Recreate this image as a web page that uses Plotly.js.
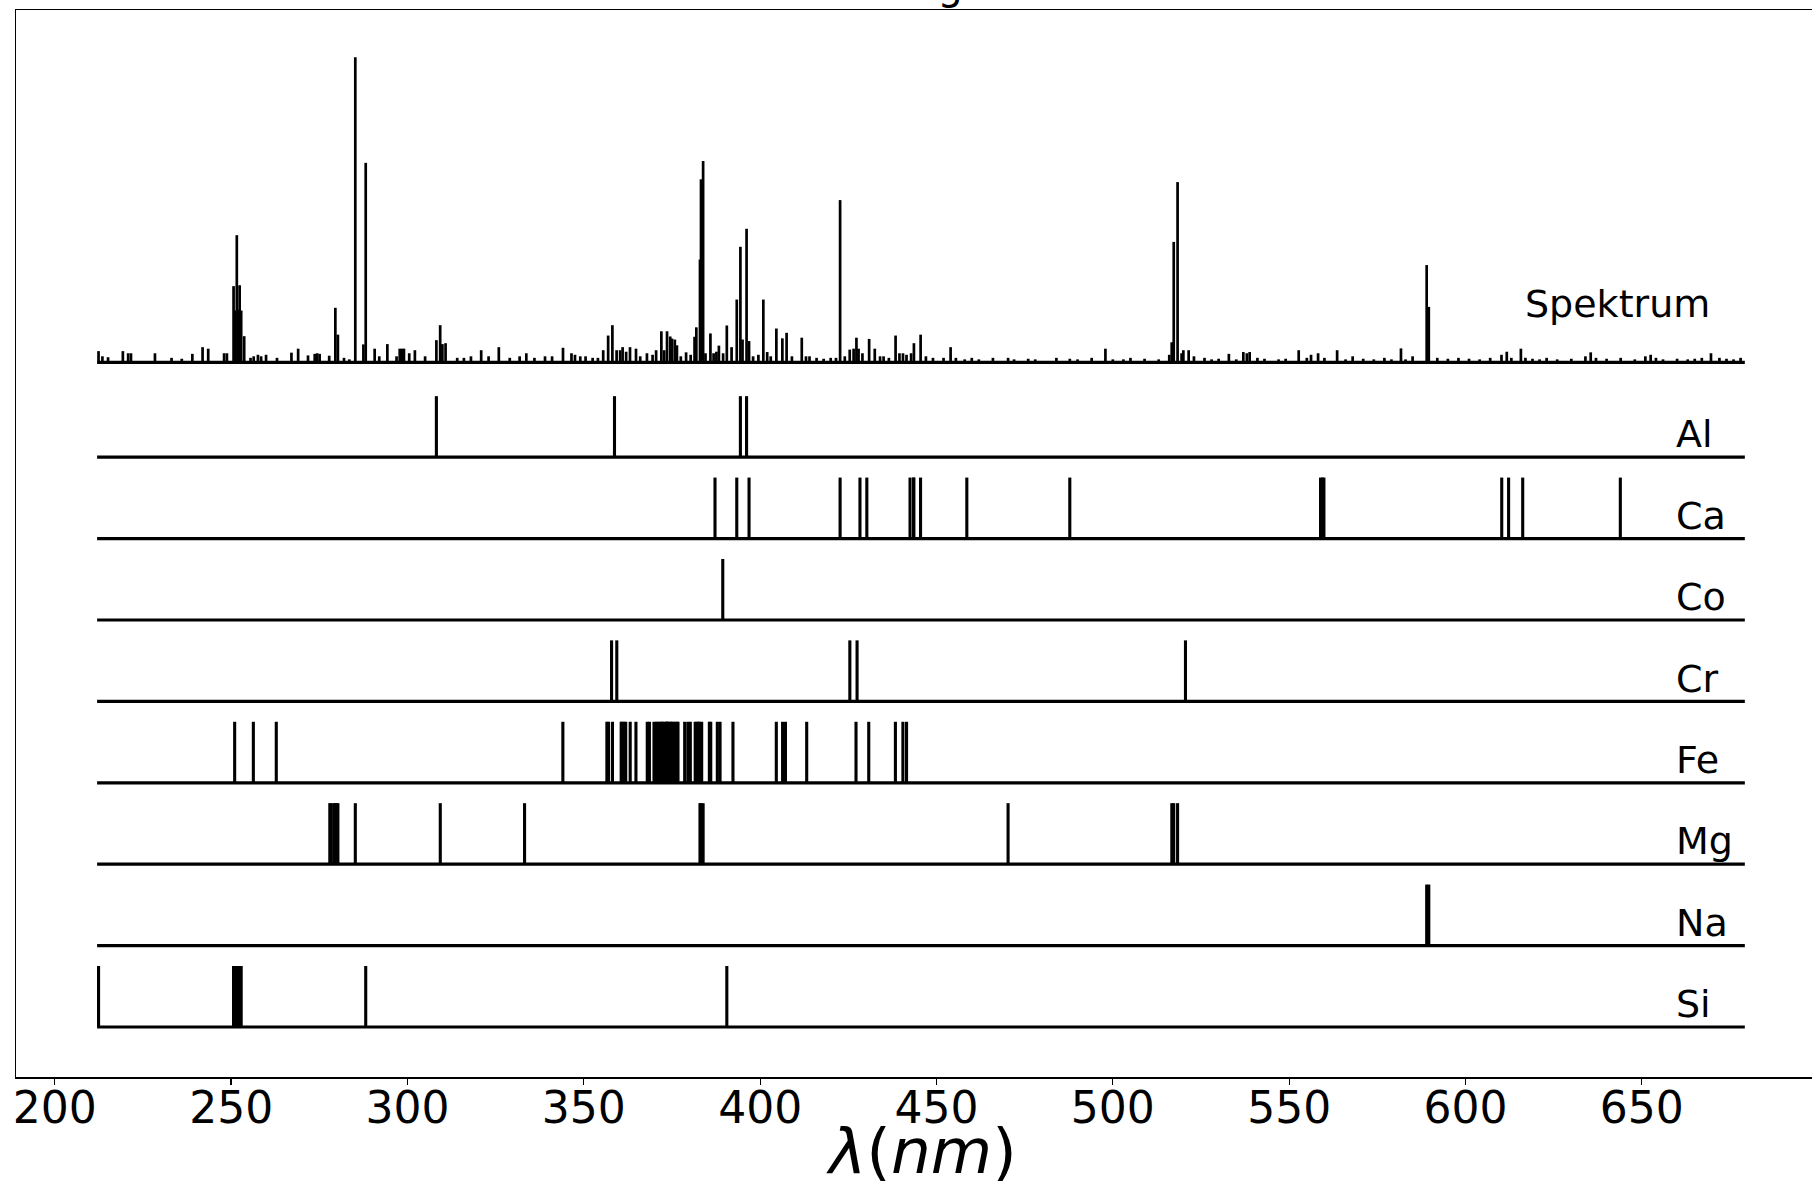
<!DOCTYPE html>
<html>
<head>
<meta charset="utf-8">
<script src="https://cdn.plot.ly/plotly-3.0.1.min.js"></script>
<style>
  html, body { margin: 0; padding: 0; overflow: hidden; background: #fff; }
  #chart { position: absolute; left: 0; top: -60px; }
</style>
</head>
<body>
<div id="chart"></div>
<script>
// ---------------- DATA ----------------
// wavelength span of the measured spectrum (nm)
const wlRange = [212.0, 679.2];

// element rows, top to bottom
const elements = ["Al", "Ca", "Co", "Cr", "Fe", "Mg", "Na", "Si"];

// reference line positions (nm) per element
const linesAl = [308.2, 358.7, 394.4, 396.15];
const linesCa = [387.2, 393.37, 396.85, 422.67, 428.3, 430.25, 442.5, 443.5, 443.57, 445.48,
                 458.6, 487.8, 558.9, 559.45, 559.85, 610.27, 612.22, 616.22, 643.9];
const linesCo = [389.4];
const linesCr = [357.87, 359.35, 425.43, 427.48, 520.6];
const linesFe = [251.0, 256.3, 262.8, 344.06, 356.54, 357.01, 358.12, 360.6, 360.89, 361.4, 361.88,
                 363.15, 364.78, 367.99, 368.6, 369.9, 370.56, 371.0, 371.5, 371.99, 372.26, 372.76,
                 373.33, 373.49, 373.71, 374.1, 374.56, 374.83, 375.3, 375.82, 376.38, 376.7,
                 378.6, 379.5, 380.2, 381.58, 382.04, 382.44, 382.78, 383.42, 385.6, 385.99,
                 387.86, 388.63, 392.29, 404.58, 406.36, 407.17, 413.2, 427.18, 430.79,
                 438.35, 440.48, 441.51];
const linesMg = [277.98, 278.3, 279.08, 279.55, 279.8, 280.27, 285.21, 309.3, 333.2,
                 382.94, 383.23, 383.83, 470.3, 516.73, 517.27, 518.36];
const linesNa = [588.99, 589.59];
const linesSi = [212.41, 250.69, 251.43, 251.61, 251.92, 252.41, 252.85, 288.16, 390.55];

// measured spectrum: peak wavelengths (nm) and relative intensity (max = 100)
const specWl = [
  212.4, 213.5, 215.1, 219.3, 220.8, 221.6, 228.4, 233.1, 236.0, 239.0, 241.9, 243.5, 248.0, 248.8,
  250.69, 251.2, 251.61, 251.92, 252.41, 252.85, 253.7, 255.5, 256.4, 257.6, 258.5, 259.9, 263.0,
  267.1, 269.0, 271.8, 273.7, 274.4, 275.1, 277.8, 279.55, 280.27, 282.0, 283.5, 285.21, 287.5,
  288.16, 290.7, 292.0, 294.3, 296.9, 297.8, 298.5, 299.0, 300.5, 302.1, 305.0, 308.2, 309.27,
  309.9, 310.8, 314.1, 316.0, 318.0, 320.9, 323.0, 325.9, 329.0, 331.8, 333.7, 336.0, 339.0,
  341.0, 344.1, 346.5, 347.5, 349.0, 350.5, 352.5, 354.0, 355.5, 356.9, 358.1, 359.3, 360.3,
  361.0, 362.0, 363.1, 364.8, 366.0, 367.9, 369.5, 370.5, 371.99, 372.8, 373.6, 374.5, 375.0,
  375.8, 376.4, 377.5, 379.0, 380.3, 381.4, 381.9, 382.94, 383.23, 383.83, 384.5, 385.9, 386.8,
  387.6, 388.3, 389.5, 390.55, 391.9, 393.37, 394.4, 395.0, 396.15, 396.85, 398.0, 399.5, 400.9,
  402.0, 403.0, 404.6, 406.3, 407.5, 409.0, 411.8, 413.0, 414.0, 416.0, 418.0, 420.0, 421.5,
  422.67, 424.0, 425.4, 426.5, 427.3, 427.9, 429.0, 430.9, 432.5, 434.0, 435.0, 436.5, 438.4,
  439.5, 440.5, 441.5, 442.8, 443.6, 445.5, 447.0, 449.0, 452.0, 454.0, 455.5, 458.0, 460.0,
  462.0, 466.0, 470.3, 472.0, 476.0, 478.0, 484.0, 487.8, 490.0, 494.0, 497.9, 500.0, 503.0,
  505.0, 509.0, 513.0, 516.0, 516.7, 517.27, 518.36, 519.5, 520.0, 521.5, 523.0, 526.0, 528.0,
  530.0, 532.9, 535.0, 537.0, 538.0, 538.8, 541.0, 543.0, 547.0, 549.0, 552.7, 555.0, 556.2,
  558.2, 560.0, 563.6, 566.0, 568.0, 571.0, 574.0, 577.0, 579.0, 581.7, 583.0, 585.0, 588.99,
  589.59, 592.0, 595.0, 598.0, 601.0, 604.0, 607.0, 610.2, 611.7, 613.0, 615.7, 617.0, 619.0,
  621.0, 623.0, 626.0, 630.0, 634.0, 635.5, 637.0, 640.0, 644.0, 648.0, 651.0, 652.5, 654.0,
  656.0, 660.0, 663.0, 665.0, 667.0, 669.6, 672.0, 674.0, 676.0, 678.0];
const specInt = [
  3.7, 2.0, 1.7, 3.7, 3.0, 3.0, 3.0, 1.5, 1.2, 2.8, 5.0, 4.5, 3.0, 3.0,
  25.0, 17.0, 41.7, 17.3, 25.3, 17.0, 8.6, 1.5, 2.0, 2.5, 2.0, 2.5, 1.5,
  3.2, 4.5, 2.3, 2.8, 3.0, 2.8, 2.2, 17.9, 9.1, 1.5, 1.0, 100.0, 5.9,
  65.4, 4.5, 2.0, 6.0, 2.0, 4.5, 4.5, 4.5, 3.0, 4.0, 2.0, 7.3, 12.2,
  6.0, 6.3, 1.5, 1.5, 2.0, 4.0, 2.0, 5.0, 1.5, 2.0, 3.0, 1.5, 2.0,
  2.0, 4.8, 3.0, 2.5, 2.0, 2.0, 1.5, 1.5, 4.0, 8.8, 12.2, 4.0, 4.0,
  5.0, 3.5, 5.0, 4.5, 2.0, 3.0, 2.5, 4.0, 10.2, 4.0, 10.2, 8.5, 7.8,
  7.5, 5.6, 2.0, 3.3, 2.5, 8.4, 11.5, 33.7, 60.0, 66.0, 3.0, 9.5, 3.0,
  3.5, 5.5, 3.0, 12.1, 5.0, 20.6, 37.9, 7.5, 43.8, 7.0, 2.0, 2.5, 20.6,
  3.4, 2.0, 11.1, 7.9, 9.7, 2.0, 8.1, 2.0, 2.0, 1.5, 1.2, 1.5, 1.5,
  53.2, 2.0, 4.2, 4.5, 8.1, 4.5, 3.0, 7.7, 4.5, 2.0, 2.0, 1.5, 8.8,
  3.0, 3.0, 2.5, 3.0, 6.3, 9.1, 2.0, 1.5, 1.5, 5.0, 1.5, 1.0, 1.5,
  1.0, 1.5, 1.5, 1.0, 1.2, 1.0, 1.5, 1.2, 1.0, 1.5, 4.5, 1.0, 1.0,
  1.5, 1.2, 1.0, 2.5, 6.6, 39.5, 59.1, 3.0, 4.0, 4.0, 2.0, 1.5, 1.0,
  1.2, 2.8, 1.0, 3.4, 3.0, 3.4, 1.5, 1.2, 1.0, 1.2, 4.0, 1.5, 2.5,
  3.0, 1.5, 4.0, 1.0, 2.0, 1.2, 1.0, 1.5, 1.0, 4.6, 1.0, 2.0, 31.9,
  18.2, 1.5, 1.2, 1.5, 1.2, 1.0, 1.5, 2.5, 3.5, 1.5, 4.5, 1.5, 1.2,
  1.0, 1.5, 1.0, 1.2, 2.0, 3.3, 1.5, 1.2, 1.5, 1.0, 2.0, 2.5, 1.5,
  1.0, 1.2, 1.0, 1.2, 1.5, 3.0, 1.5, 1.2, 1.0, 1.5];

// x-axis tick labels
const xTicks = [200, 250, 300, 350, 400, 450, 500, 550, 600, 650];

// ---------------- DRAWING ----------------
const elementLines = {Al: linesAl, Ca: linesCa, Co: linesCo, Cr: linesCr,
                      Fe: linesFe, Mg: linesMg, Na: linesNa, Si: linesSi};
const FONT = "DejaVu Sans";
const LW = 3.1;
const lineHeight = 0.75;

function sticks(xs, base, heights) {
  const x = [], y = [];
  xs.forEach((w, i) => {
    x.push(w, w, null);
    y.push(base, base + (Array.isArray(heights) ? heights[i] : heights), null);
  });
  return {x, y};
}

const traces = [];
const annotations = [];
const nRows = elements.length;

elements.forEach((el, k) => {
  const base = nRows - 1 - k;   // Si at 0, Al at 7
  const s = sticks(elementLines[el], base, lineHeight);
  traces.push({type: "scatter", mode: "lines", x: s.x, y: s.y,
               line: {color: "black", width: LW}, hoverinfo: "skip", showlegend: false});
  traces.push({type: "scatter", mode: "lines", x: wlRange, y: [base, base],
               line: {color: "black", width: 3.2}, hoverinfo: "skip", showlegend: false});
  annotations.push({x: 659.2, y: base + 0.28, xref: "x", yref: "y", text: el,
                    showarrow: false, xanchor: "left", yanchor: "middle",
                    font: {family: FONT, size: 38, color: "black"}});
});

// spectrum on its own overlaid y axis (intensity units)
const sp = sticks(specWl, 0, specInt);
traces.push({type: "scatter", mode: "lines", x: sp.x, y: sp.y, yaxis: "y2",
             line: {color: "black", width: 2.7}, hoverinfo: "skip", showlegend: false});
traces.push({type: "scatter", mode: "lines", x: wlRange, y: [0, 0], yaxis: "y2",
             line: {color: "black", width: 3.2}, hoverinfo: "skip", showlegend: false});
annotations.push({x: 616.2, y: 19.1, xref: "x", yref: "y2", text: "Spektrum",
                  showarrow: false, xanchor: "left", yanchor: "middle",
                  font: {family: FONT, size: 38, color: "black"}});

// x-axis title placed below the tick labels
annotations.push({x: 0.5, y: -74 / 1067, xref: "paper", yref: "paper",
                  text: "<i>λ</i>(<i>nm</i>)", showarrow: false,
                  xanchor: "center", yanchor: "middle",
                  font: {family: FONT, size: 63, color: "black"}});

const W = 1840, H = 1281;
const layout = {
  width: W, height: H,
  paper_bgcolor: "white", plot_bgcolor: "white",
  margin: {l: 16, r: W - 16 - 1811, t: 70, b: H - 70 - 1067},
  font: {family: FONT, color: "black"},
  showlegend: false,
  title: {text: "Messung", font: {family: FONT, size: 40, color: "black"},
          x: 963 / W, xref: "container", xanchor: "right",
          y: 1 - 44.7 / H, yref: "container", yanchor: "middle"},
  xaxis: {range: [189.0, 702.5], tickvals: xTicks, ticktext: xTicks.map(String),
          ticks: "outside", ticklen: 6, tickwidth: 1.3, tickcolor: "black",
          ticklabelstandoff: -14,
          showline: true, linewidth: 1.5, linecolor: "black", mirror: true,
          showgrid: false, zeroline: false, automargin: false,
          tickfont: {family: FONT, size: 44, color: "black"}},
  yaxis: {range: [-0.614, 12.494], showline: true, linewidth: 1.5, linecolor: "black",
          mirror: true, ticks: "", showticklabels: false, showgrid: false,
          zeroline: false, automargin: false},
  yaxis2: {range: [-234.2, 115.5], overlaying: "y", visible: false,
           showgrid: false, zeroline: false},
  annotations: annotations
};

Plotly.newPlot("chart", traces, layout, {displayModeBar: false, staticPlot: true});
</script>
</body>
</html>
